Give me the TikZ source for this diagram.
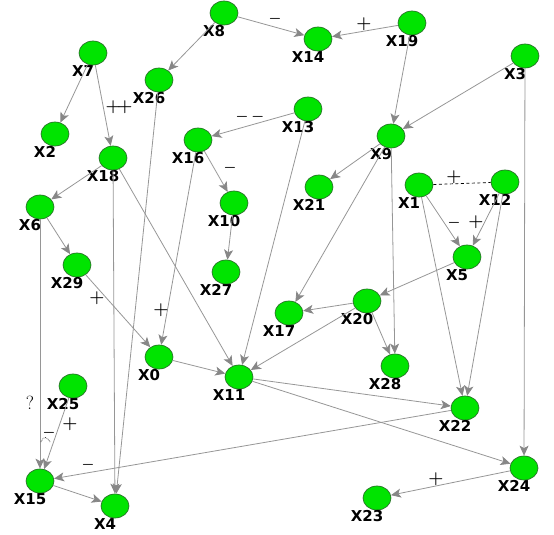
\documentclass[tikz,border=0pt]{standalone}
\usepackage{fontspec}
\newfontfamily\varfont{DejaVu Sans}
\usetikzlibrary{arrows.meta,shapes.geometric}
\definecolor{nodegreen}{RGB}{0,228,0}
\definecolor{nodeedge}{RGB}{40,115,40}
\definecolor{edgegray}{RGB}{150,150,150}
\definecolor{tipgray}{RGB}{135,135,135}
\begin{document}
\begin{tikzpicture}[x=1pt,y=-1pt,
    var/.style={ellipse,draw=nodeedge,fill=nodegreen,line width=0.7pt,
      minimum width=28pt,minimum height=24pt,inner sep=0pt,label distance=0pt},
    lab/.style={font=\varfont\bfseries\fontsize{15}{15}\selectfont,inner sep=0pt,xshift=-10pt},
    sign/.style={font=\fontsize{16}{16}\selectfont\boldmath,inner sep=0pt},
    minus/.style={font=\fontsize{14}{14}\selectfont\boldmath,inner sep=0pt}]
      \useasboundingbox (0,0) rectangle (554,535);
      \path
        (159,357) node[var,label={[lab]below:X0}] (x0){}
        (419,185) node[var,label={[lab]below:X1}] (x1){}
        (55,134) node[var,label={[lab]below:X2}] (x2){}
        (525,56) node[var,label={[lab]below:X3}] (x3){}
        (115,506) node[var,label={[lab]below:X4}] (x4){}
        (467,257) node[var,label={[lab]below:X5}] (x5){}
        (40,207) node[var,label={[lab]below:X6}] (x6){}
        (93,53) node[var,label={[lab]below:X7}] (x7){}
        (224,13) node[var,label={[lab]below:X8}] (x8){}
        (391,136) node[var,label={[lab]below:X9}] (x9){}
        (234,203) node[var,label={[lab]below:X10}] (x10){}
        (239,377) node[var,label={[lab]below:X11}] (x11){}
        (505,182) node[var,label={[lab]below:X12}] (x12){}
        (308,109) node[var,label={[lab]below:X13}] (x13){}
        (318,39) node[var,label={[lab]below:X14}] (x14){}
        (40,481) node[var,label={[lab]below:X15}] (x15){}
        (198,140) node[var,label={[lab]below:X16}] (x16){}
        (289,313) node[var,label={[lab]below:X17}] (x17){}
        (113,158) node[var,label={[lab]below:X18}] (x18){}
        (412,23) node[var,label={[lab]below:X19}] (x19){}
        (367,301) node[var,label={[lab]below:X20}] (x20){}
        (319,187) node[var,label={[lab]below:X21}] (x21){}
        (465,408) node[var,label={[lab]below:X22}] (x22){}
        (377,498) node[var,label={[lab]below:X23}] (x23){}
        (524,468) node[var,label={[lab]below:X24}] (x24){}
        (73,386) node[var,label={[lab]below:X25}] (x25){}
        (159,80) node[var,label={[lab]below:X26}] (x26){}
        (226,272) node[var,label={[lab]below:X27}] (x27){}
        (395,366) node[var,label={[lab]below:X28}] (x28){}
        (77,265) node[var,label={[lab]below:X29}] (x29){};
      \begin{scope}[edgegray,line width=0.8pt,
          -{Stealth[length=10pt,width=9pt,inset=2.5pt,fill=tipgray,color=tipgray]}]
        \draw (x8) to (x26);
        \draw (x8) to (x14);
        \draw (x19) to (x14);
        \draw (x19) to (x9);
        \draw (x3) to (x9);
        \draw (x3) to (x24);
        \draw (x7) to (x2);
        \draw (x7) to (x18);
        \draw (x26) to (x4);
        \draw (x13) to (x16);
        \draw (x13) to (x11);
        \draw (x16) to (x10);
        \draw (x16) to (x0);
        \draw (x10) to (x27);
        \draw (x18) to (x6);
        \draw (x18) to (x4);
        \draw (x18) to (x11);
        \draw (x6) to (x29);
        \draw (x6) to (x15);
        \draw (x29) to (x0);
        \draw (x0) to (x11);
        \draw (x9) to (x21);
        \draw (x9) to (x17);
        \draw (x9) to (x28);
        \draw (x1) to (x5);
        \draw (x12) to (x5);
        \draw (x1) to (x22);
        \draw (x12) to (x22);
        \draw (x5) to (x20);
        \draw (x20) to (x17);
        \draw (x20) to (x11);
        \draw (x20) to (x28);
        \draw (x11) to (x22);
        \draw (x11) to (x24);
        \draw (x22) to (x15);
        \draw (x25) to (x15);
        \draw (x15) to (x4);
        \draw (x24) to (x23);
      \end{scope}
      \draw[black,line width=0.7pt,dash pattern=on 3pt off 2.5pt] (x1) -- (x12);
      % signs on the edges
      \node[minus] (s8) at (275,19) {$-$};
      \node[sign] (s19) at (364,24) {$+$};
      \node[sign] (s7) at (119,107) {$+\!+$};
      \node[minus] (s13) at (250,117) {$-\,-$};
      \node[minus] (s16) at (230,168) {$-$};
      \node[sign] (s1) at (454,177) {$+$};
      \node[minus] (s1b) at (454,223) {$-$};
      \node[sign] (s12) at (476,222) {$+$};
      \node[sign] (s29) at (97,298) {$+$};
      \node[sign] (s16b) at (161,310) {$+$};
      \node[sign,font=\fontsize{19}{19}\selectfont] (s6) at (30,403) {?};
      \node[sign] (s25) at (70,424) {$+$};
      \node[minus] (s15) at (49,433) {$-$};
      \node[minus] (s22) at (88,465) {$-$};
      \node[sign] (s24) at (436,479) {$+$};
      \draw[black,densely dotted,line width=0.6pt] (41,442) .. controls (43,436) and (47,436) .. (50,442);
    \end{tikzpicture}
\end{document}
